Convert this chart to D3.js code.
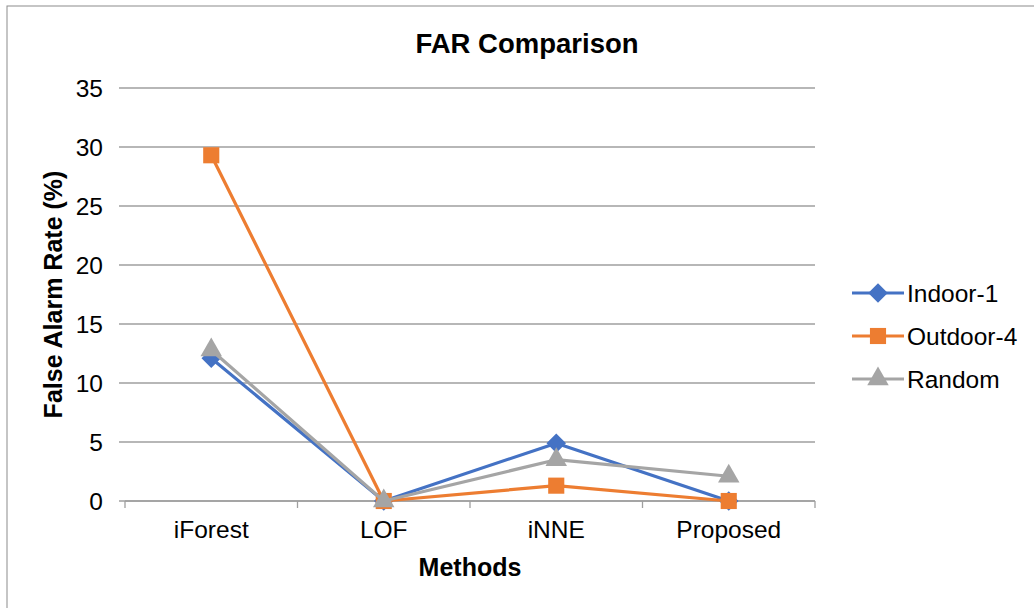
<!DOCTYPE html>
<html>
<head>
<meta charset="utf-8">
<script src="https://cdn.jsdelivr.net/npm/d3@7"></script>
<style>
  body { margin: 0; background: #fff; }
  text { font-family: "Liberation Sans", Arial, sans-serif; }
</style>
</head>
<body>
<script>
var width = 1034,
    height = 608;

// data
var methods = ["iForest", "LOF", "iNNE", "Proposed"];
var indoor1 = [12.1, 0, 4.9, 0];
var outdoor4 = [29.3, 0, 1.3, 0];
var random = [12.8, 0, 3.5, 2.1];
var yTicks = [0, 5, 10, 15, 20, 25, 30, 35];

// excel-ish diamond (square turned 45deg)
var diamond = {
  draw: function(ctx, size) {
    var r = Math.sqrt(size / 2);
    ctx.moveTo(0, -r); ctx.lineTo(r, 0); ctx.lineTo(0, r); ctx.lineTo(-r, 0); ctx.closePath();
  }
};

var series = [
  {name: "Indoor-1", values: indoor1, color: "#4472c4", shape: diamond, size: 190},
  {name: "Outdoor-4", values: outdoor4, color: "#ed7d31", shape: d3.symbolSquare, size: 260},
  {name: "Random", values: random, color: "#a5a5a5", shape: d3.symbolTriangle, size: 200}
];

var svg = d3.select("body").append("svg")
    .attr("width", width)
    .attr("height", height);

// chart frame
svg.append("rect")
    .attr("x", 7).attr("y", 6)
    .attr("width", 1040).attr("height", 620)
    .attr("fill", "none")
    .attr("stroke", "#8c8c8c")
    .attr("stroke-width", 1);

var plotLeft = 125, plotRight = 815, plotTop = 88, plotBottom = 501;

var x = d3.scaleBand().domain(methods).range([plotLeft, plotRight]);
var y = d3.scaleLinear().domain([0, 35]).range([plotBottom, plotTop]);

// gridlines
svg.append("g")
  .selectAll("line")
  .data(yTicks)
  .join("line")
    .attr("x1", plotLeft - 6).attr("x2", plotRight)
    .attr("y1", d => y(d)).attr("y2", d => y(d))
    .attr("stroke", "#9f9f9f")
    .attr("stroke-width", 1.3);

// y labels
svg.append("g")
  .selectAll("text")
  .data(yTicks)
  .join("text")
    .attr("x", 103)
    .attr("y", d => y(d))
    .attr("dy", "0.35em")
    .attr("text-anchor", "end")
    .attr("font-size", 24.5)
    .attr("fill", "#000")
    .text(d => d);

// x axis
var xAxis = svg.append("g")
    .attr("transform", "translate(0," + plotBottom + ")")
    .call(d3.axisBottom(x).tickSize(0).tickPadding(20));
xAxis.select(".domain").remove();
xAxis.selectAll("text")
    .attr("font-size", 24.5)
    .attr("fill", "#000")
    .style("font-family", "Liberation Sans, Arial, sans-serif");

svg.append("line")
    .attr("x1", plotLeft).attr("x2", plotRight)
    .attr("y1", plotBottom).attr("y2", plotBottom)
    .attr("stroke", "#9f9f9f").attr("stroke-width", 1.5);

var bounds = methods.map(m => x(m)).concat([plotRight]);
svg.append("g")
  .selectAll("line")
  .data(bounds)
  .join("line")
    .attr("x1", d => d).attr("x2", d => d)
    .attr("y1", plotBottom).attr("y2", plotBottom + 7)
    .attr("stroke", "#9f9f9f").attr("stroke-width", 1.3);

var cx = m => x(m) + x.bandwidth() / 2;

var line = d3.line()
    .x((d, i) => cx(methods[i]))
    .y(d => y(d));

// series drawn in order, each line then its markers (later ones on top)
series.forEach(function(s) {
  svg.append("path")
      .datum(s.values)
      .attr("d", line)
      .attr("fill", "none")
      .attr("stroke", s.color)
      .attr("stroke-width", 3.2)
      .attr("stroke-linejoin", "round");
  svg.append("g")
    .selectAll("path")
    .data(s.values)
    .join("path")
      .attr("transform", (d, i) => "translate(" + cx(methods[i]) + "," + y(d) + ")")
      .attr("d", d3.symbol().type(s.shape).size(s.size))
      .attr("fill", s.color);
});

// title
svg.append("text")
    .attr("x", 527).attr("y", 53)
    .attr("text-anchor", "middle")
    .attr("font-size", 27.5)
    .attr("font-weight", "bold")
    .text("FAR Comparison");

// axis titles
svg.append("text")
    .attr("x", 470).attr("y", 576)
    .attr("text-anchor", "middle")
    .attr("font-size", 25)
    .attr("font-weight", "bold")
    .text("Methods");

svg.append("text")
    .attr("transform", "translate(62," + ((plotTop + plotBottom) / 2) + ") rotate(-90)")
    .attr("text-anchor", "middle")
    .attr("font-size", 25)
    .attr("font-weight", "bold")
    .text("False Alarm Rate (%)");

// legend
var legend = svg.append("g");
series.forEach(function(s, i) {
  var ly = 293 + i * 43;
  legend.append("line")
      .attr("x1", 852).attr("x2", 904)
      .attr("y1", ly).attr("y2", ly)
      .attr("stroke", s.color).attr("stroke-width", 3.2);
  legend.append("path")
      .attr("transform", "translate(878," + ly + ")")
      .attr("d", d3.symbol().type(s.shape).size(s.size))
      .attr("fill", s.color);
  legend.append("text")
      .attr("x", 907).attr("y", ly)
      .attr("dy", "0.35em")
      .attr("font-size", 24.5)
      .text(s.name);
});
</script>
</body>
</html>
